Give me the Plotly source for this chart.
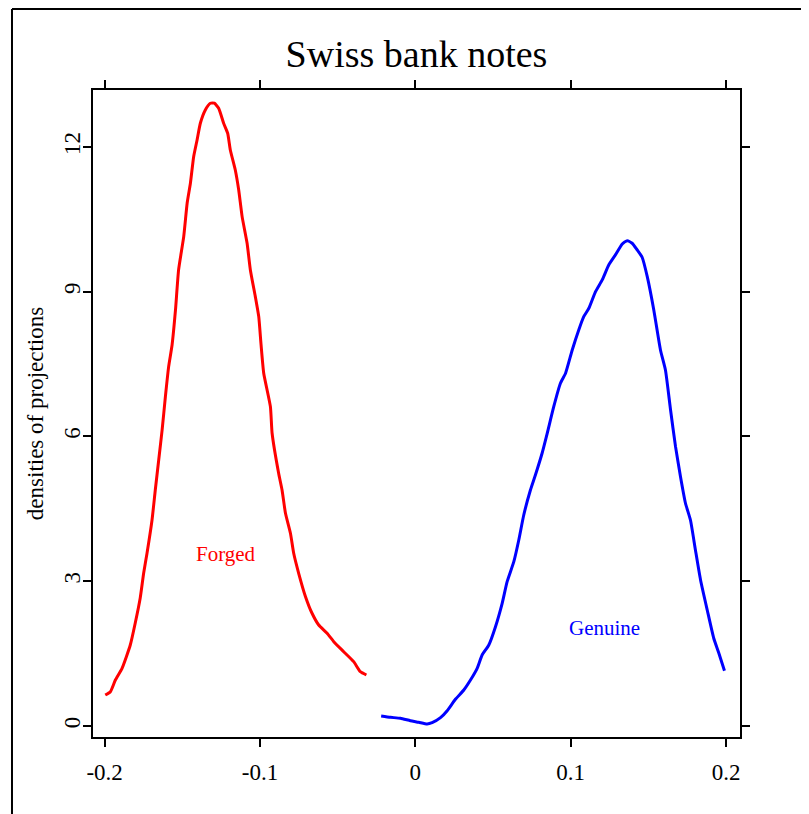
import plotly.graph_objects as go

# Forged notes density
forged_x = [-0.1996, -0.1963, -0.1931, -0.1888, -0.1835, -0.1803, -0.1771, -0.1749, -0.1727, -0.1695,
            -0.1674, -0.1652, -0.1630, -0.1609, -0.1588, -0.1566, -0.1544, -0.1524, -0.1491, -0.1469,
            -0.1448, -0.1427, -0.1405, -0.1384, -0.1352, -0.1320, -0.1294, -0.1266, -0.1234, -0.1208,
            -0.1191, -0.1159, -0.1137, -0.1115, -0.1083, -0.1062, -0.1030, -0.1008, -0.0993, -0.0976,
            -0.0933, -0.0922, -0.0880, -0.0858, -0.0836, -0.0804, -0.0783, -0.0751, -0.0707, -0.0665,
            -0.0622, -0.0568, -0.0525, -0.0461, -0.0397, -0.0354, -0.0315]
forged_y = [0.642, 0.711, 0.953, 1.196, 1.679, 2.135, 2.653, 3.165, 3.585, 4.269,
            4.891, 5.513, 6.135, 6.825, 7.447, 7.896, 8.622, 9.451, 10.141, 10.833,
            11.248, 11.799, 12.145, 12.491, 12.767, 12.906, 12.906, 12.802, 12.491, 12.284,
            11.938, 11.523, 11.109, 10.556, 10.004, 9.451, 8.898, 8.483, 7.896, 7.310,
            6.618, 6.066, 5.237, 4.891, 4.408, 3.994, 3.579, 3.165, 2.680, 2.336,
            2.093, 1.921, 1.747, 1.540, 1.333, 1.125, 1.057]

# Genuine notes density
genuine_x = [-0.0220, -0.0160, -0.0096, -0.0032, 0.0022, 0.0076, 0.0108, 0.0162, 0.0205, 0.0258,
             0.0312, 0.0355, 0.0398, 0.0430, 0.0473, 0.0516, 0.0559, 0.0591, 0.0634, 0.0666,
             0.0698, 0.0741, 0.0773, 0.0816, 0.0849, 0.0891, 0.0934, 0.0967, 0.1010, 0.1052,
             0.1084, 0.1117, 0.1160, 0.1203, 0.1245, 0.1288, 0.1332, 0.1364, 0.1396, 0.1428,
             0.1460, 0.1493, 0.1535, 0.1578, 0.1610, 0.1643, 0.1675, 0.1707, 0.1739, 0.1771,
             0.1803, 0.1836, 0.1879, 0.1921, 0.1954, 0.1990]
genuine_y = [0.207, 0.180, 0.160, 0.110, 0.077, 0.041, 0.068, 0.172, 0.317, 0.553,
             0.746, 0.953, 1.196, 1.472, 1.679, 2.058, 2.543, 2.991, 3.405, 3.855,
             4.373, 4.891, 5.202, 5.652, 6.066, 6.618, 7.103, 7.310, 7.793, 8.207,
             8.483, 8.657, 9.001, 9.244, 9.554, 9.762, 9.990, 10.058, 10.004, 9.865,
             9.714, 9.312, 8.622, 7.793, 7.378, 6.549, 5.789, 5.167, 4.616, 4.269,
             3.648, 3.026, 2.404, 1.818, 1.507, 1.146]

x_ticks = [-0.2, -0.1, 0, 0.1, 0.2]
x_tick_labels = ["-0.2", "-0.1", "0", "0.1", "0.2"]
y_ticks = [0, 3, 6, 9, 12]
y_tick_labels = ["0", "3", "6", "9", "12"]

title_text = "Swiss bank notes"
y_title = "densities of projections"
label_forged = ("Forged", -0.1216, 3.56)
label_genuine = ("Genuine", 0.1218, 2.03)

FONT = "Liberation Serif, Times New Roman, serif"

fig = go.Figure()
fig.add_trace(go.Scatter(x=forged_x, y=forged_y, mode="lines",
                         line=dict(color="#ff0000", width=3, shape="spline", smoothing=0.5),
                         hoverinfo="skip"))
fig.add_trace(go.Scatter(x=genuine_x, y=genuine_y, mode="lines",
                         line=dict(color="#0000ff", width=3, shape="spline", smoothing=0.5),
                         hoverinfo="skip"))

for (txt, xx, yy), col in [(label_forged, "#ff0000"), (label_genuine, "#0000ff")]:
    fig.add_annotation(x=xx, y=yy, text=txt, showarrow=False,
                       font=dict(family=FONT, size=21, color=col))

# outer frame lines (left and top only)
fig.add_shape(type="line", xref="paper", yref="paper",
              x0=-0.1252, x1=-0.1252, y0=1.1252, y1=-0.2, line=dict(color="black", width=2))
fig.add_shape(type="line", xref="paper", yref="paper",
              x0=-0.1252, x1=1.2, y0=1.1252, y1=1.1252, line=dict(color="black", width=2))

axis_common = dict(showgrid=False, zeroline=False, showline=True, linecolor="black",
                   linewidth=2, mirror="allticks", ticks="outside", ticklen=8,
                   tickwidth=1.5, tickcolor="black",
                   tickfont=dict(family=FONT, size=23, color="black"))

# page body has an 8px margin, so the figure is 8px smaller than the window
fig.update_layout(
    width=801, height=806,
    margin=dict(l=85, r=69, t=82, b=77),
    paper_bgcolor="white", plot_bgcolor="white",
    showlegend=False,
    title=dict(text=title_text, x=0.5, xref="paper", y=1 - 46 / 806, yanchor="middle",
               font=dict(family=FONT, size=38, color="black")),
    xaxis=dict(range=[-0.2075, 0.209], tickvals=x_ticks, ticktext=x_tick_labels,
               ticklabelstandoff=5, **axis_common),
    yaxis=dict(range=[-0.228, 13.18], tickvals=y_ticks, ticktext=y_tick_labels,
               tickangle=-90, ticklabelstandoff=-6,
               title=dict(text=y_title, standoff=10,
                          font=dict(family=FONT, size=23, color="black")),
               **axis_common),
)

fig.write_html("out.html")
